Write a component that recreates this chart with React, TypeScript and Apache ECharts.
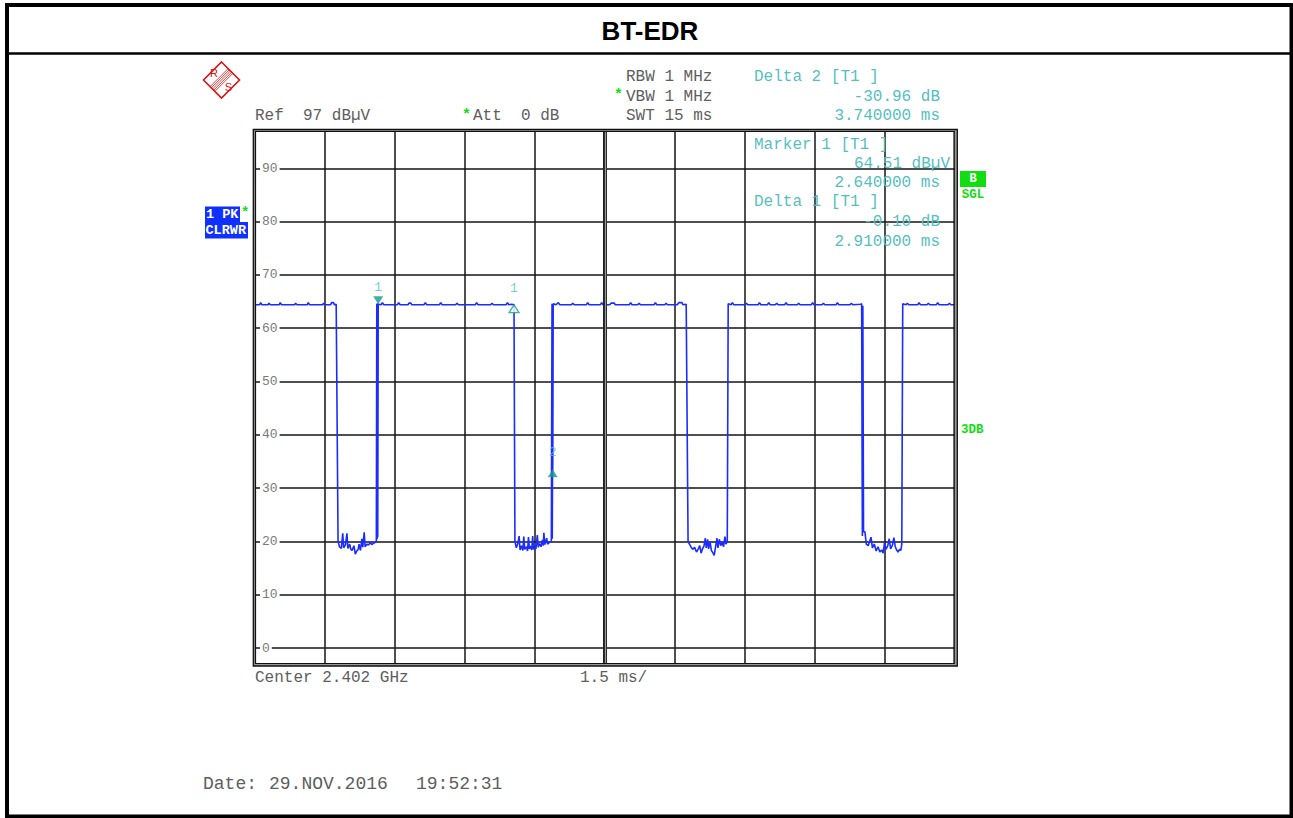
import React, { useEffect, useRef } from "react";
import * as echarts from "echarts";

// ---------- data ----------
const TITLE = "BT-EDR";
const SWEEP_MS = 15; // 10 divisions x 1.5 ms
const DIV_MS = 1.5;
const REF_LEVEL = 97;
const Y_MIN = -3;

// trace segments [time ms, level dBµV]
const high1: [number, number][] = [
  [0.0, 64.4], [0.1, 64.4], [0.12, 64.8], [0.15, 64.4], [0.28, 64.4], [0.3, 64.7], [0.33, 64.4],
  [0.52, 64.4], [0.54, 64.8], [0.57, 64.4], [0.85, 64.4], [0.87, 64.7], [0.9, 64.4], [1.12, 64.4],
  [1.14, 64.8], [1.17, 64.4], [1.45, 64.4], [1.47, 64.7], [1.5, 64.4], [1.62, 64.4], [1.64, 64.8],
  [1.68, 64.8], [1.7, 64.4], [1.74, 64.5],
];
const low1: [number, number][] = [
  [1.78, 20.0], [1.81, 19.0], [1.85, 18.7], [1.88, 21.5], [1.9, 18.8], [1.94, 19.4], [1.97, 21.5],
  [1.99, 18.7], [2.03, 19.5], [2.05, 18.6], [2.08, 18.3], [2.12, 19.2], [2.15, 17.6], [2.18, 18.2],
  [2.21, 18.5], [2.23, 19.5], [2.26, 18.3], [2.29, 20.5], [2.31, 18.9], [2.34, 21.7], [2.36, 19.0],
  [2.4, 19.5], [2.43, 19.3], [2.47, 19.8], [2.5, 19.4], [2.53, 19.6], [2.57, 19.8], [2.6, 20.0],
  [2.61, 64.6], [2.615, 20.4], [2.625, 64.7], [2.63, 20.8], [2.64, 64.51],
];
const high2: [number, number][] = [
  [2.7, 64.4], [2.73, 64.8], [2.76, 64.4], [3.05, 64.4], [3.08, 64.8], [3.11, 64.4], [3.28, 64.4],
  [3.3, 64.7], [3.34, 64.7], [3.36, 64.4], [3.62, 64.4], [3.65, 64.8], [3.68, 64.4], [3.95, 64.4],
  [3.98, 64.8], [4.01, 64.4], [4.3, 64.4], [4.33, 64.7], [4.36, 64.4], [4.72, 64.4], [4.75, 64.8],
  [4.78, 64.4], [5.05, 64.4], [5.08, 64.7], [5.11, 64.4], [5.38, 64.4], [5.41, 64.8], [5.44, 64.4],
  [5.5, 64.5], [5.55, 64.41],
];
const low2: [number, number][] = [
  [5.57, 20.0], [5.6, 18.8], [5.63, 19.5], [5.66, 21.0], [5.68, 18.4], [5.71, 19.2], [5.74, 18.3],
  [5.76, 20.9], [5.78, 18.5], [5.82, 19.0], [5.84, 18.2], [5.86, 20.8], [5.88, 18.6], [5.91, 19.1],
  [5.93, 18.4], [5.95, 21.0], [5.97, 18.5], [6.0, 19.3], [6.02, 18.6], [6.05, 21.2], [6.07, 18.9],
  [6.1, 19.6], [6.13, 19.0], [6.16, 20.3], [6.18, 19.2], [6.19, 21.6], [6.21, 19.4], [6.25, 20.6],
  [6.27, 19.5], [6.31, 19.8], [6.35, 20.0],
  [6.365, 64.6], [6.37, 20.5], [6.375, 33.0], [6.38, 33.55], [6.39, 64.6],
];
const high3: [number, number][] = [
  [6.45, 64.4], [6.5, 64.8], [6.53, 64.4], [6.78, 64.4], [6.81, 64.7], [6.84, 64.4], [7.1, 64.4],
  [7.13, 64.8], [7.16, 64.4], [7.4, 64.4], [7.43, 64.8], [7.46, 64.4], [7.6, 64.4], [7.63, 64.7],
  [7.7, 64.7], [7.72, 64.4], [8.02, 64.4], [8.05, 64.8], [8.08, 64.4], [8.2, 64.4], [8.23, 64.7],
  [8.26, 64.4], [8.55, 64.4], [8.58, 64.8], [8.61, 64.4], [8.78, 64.4], [8.81, 64.7], [8.84, 64.4],
  [9.05, 64.4], [9.08, 64.8], [9.15, 64.8], [9.17, 64.4], [9.24, 64.5],
];
const low3: [number, number][] = [
  [9.28, 20.0], [9.31, 19.5], [9.34, 19.0], [9.38, 18.5], [9.42, 18.9], [9.46, 18.0], [9.5, 18.6],
  [9.53, 19.2], [9.56, 17.8], [9.59, 18.6], [9.62, 19.1], [9.65, 20.6], [9.67, 18.8], [9.7, 20.4],
  [9.72, 18.6], [9.75, 19.9], [9.78, 18.3], [9.81, 17.9], [9.84, 17.4], [9.87, 19.0], [9.9, 20.6],
  [9.92, 18.8], [9.95, 20.4], [9.98, 19.2], [10.01, 19.8], [10.04, 19.0], [10.07, 20.9], [10.09, 19.5],
  [10.12, 20.0], [10.14, 64.6],
];
const high4: [number, number][] = [
  [10.2, 64.4], [10.23, 64.8], [10.26, 64.4], [10.5, 64.4], [10.53, 64.7], [10.56, 64.4], [10.78, 64.4],
  [10.81, 64.8], [10.84, 64.4], [10.98, 64.4], [11.01, 64.8], [11.04, 64.4], [11.15, 64.4], [11.18, 64.7],
  [11.21, 64.4], [11.35, 64.4], [11.38, 64.8], [11.41, 64.4], [11.62, 64.4], [11.65, 64.7], [11.68, 64.4],
  [11.92, 64.4], [11.95, 64.8], [11.98, 64.4], [12.15, 64.4], [12.18, 64.7], [12.21, 64.4], [12.45, 64.4],
  [12.48, 64.8], [12.51, 64.4], [12.75, 64.4], [12.78, 64.7], [12.81, 64.4], [12.98, 64.5], [13.0, 64.6],
];
const low4: [number, number][] = [
  [13.015, 21.0], [13.025, 64.2], [13.04, 21.8],
  [13.07, 21.8], [13.1, 19.5], [13.14, 19.2], [13.17, 20.0], [13.2, 20.8], [13.23, 18.8], [13.27, 19.5],
  [13.31, 18.2], [13.35, 19.0], [13.39, 18.0], [13.43, 18.4], [13.46, 17.8], [13.49, 19.8], [13.52, 18.5],
  [13.56, 19.2], [13.59, 20.5], [13.62, 18.6], [13.66, 19.3], [13.69, 20.7], [13.72, 19.0], [13.75, 18.4],
  [13.78, 18.0], [13.81, 18.5], [13.84, 18.3], [13.86, 19.5], [13.88, 64.6],
];
const high5: [number, number][] = [
  [13.95, 64.4], [13.98, 64.7], [14.01, 64.4], [14.2, 64.4], [14.23, 64.8], [14.26, 64.4], [14.4, 64.4],
  [14.43, 64.7], [14.46, 64.4], [14.6, 64.4], [14.63, 64.8], [14.66, 64.4], [14.85, 64.4], [14.88, 64.7],
  [14.91, 64.4], [15.0, 64.4],
];

// markers: Marker 1, Delta 1, Delta 2
const markerNames = ["1", "1", "2"];
const markerTimes = [2.64, 5.55, 6.38];
const markerLevels = [64.51, 64.41, 33.55];

// header texts
const headerLeft = ["Ref", "97 dBµV"];
const headerAtt = ["Att", "0 dB"];
const headerMid = ["RBW 1 MHz", "VBW 1 MHz", "SWT 15 ms"];
const footer = ["Center 2.402 GHz", "1.5 ms/"];
const dateParts = ["Date:", "29.NOV.2016", "19:52:31"];

// ---------- styles ----------
const MONO = '"Liberation Mono", "DejaVu Sans Mono", monospace';
const GRAY = "#5e5e5e";
const TEAL = "#55bfbf";
const MARK = "#169a8c";
const GREEN = "#12dd12";
const BLUE = "#1030ff";
const TRACE = "#1a2cff";
const RED = "#d41515";

export default function App() {
  const ref = useRef<HTMLDivElement>(null);

  useEffect(() => {
    if (!ref.current) return;
    const chart = echarts.init(ref.current, null, { renderer: "svg" });

    const trace = [...high1, ...low1, ...high2, ...low2, ...high3, ...low3, ...high4, ...low4, ...high5];

    const d2Level = (markerLevels[2] - markerLevels[0]).toFixed(2) + " dB";
    const d2Time = (markerTimes[2] - markerTimes[0]).toFixed(6) + " ms";
    const m1Level = markerLevels[0].toFixed(2) + " dBµV";
    const m1Time = markerTimes[0].toFixed(6) + " ms";
    const d1Level = (markerLevels[1] - markerLevels[0]).toFixed(2) + " dB";
    const d1Time = (markerTimes[1] - markerTimes[0]).toFixed(6) + " ms";

    const t = (text: string, x: number, y: number, fill: string, size = 16, extra: any = {}) => ({
      type: "text",
      z: 20,
      x,
      y,
      style: {
        text,
        fill,
        font: `${extra.bold ? "bold " : ""}${size}px ${extra.family || MONO}`,
        align: extra.align || "left",
        verticalAlign: "middle",
      },
    });

    // logo geometry (decoration)
    const cx = 221.5, cy = 80, hs = 18;
    const stripes: any[] = [-2.4, -1.2, 0, 1.2, 2.4].map((s) => ({
      type: "line",
      z: 20,
      shape: { x1: cx - 9 + s, y1: cy + 9 + s, x2: cx + 9 + s, y2: cy - 9 + s },
      style: { stroke: RED, lineWidth: 0.8 },
    }));

    const markerData = markerTimes.map((tm, i) => {
      const isM1 = i === 0;
      const hollow = i === 1;
      return {
        value: [tm, markerLevels[i]],
        symbolRotate: isM1 ? 180 : 0,
        symbolOffset: isM1 ? [0, -4] : [0, 4],
        itemStyle: hollow
          ? { color: "#ffffff", borderColor: MARK, borderWidth: 1.3 }
          : { color: MARK, borderWidth: 0 },
        label: {
          show: true,
          position: "top",
          distance: isM1 ? 2 : i === 1 ? 9 : 10,
          formatter: markerNames[i],
          color: TEAL,
          fontFamily: MONO,
          fontSize: 13,
        },
      };
    });

    const option: any = {
      animation: false,
      backgroundColor: "#ffffff",
      grid: { left: 255, top: 131, width: 700, height: 533, show: false },
      xAxis: {
        type: "value",
        min: 0,
        max: SWEEP_MS,
        interval: DIV_MS,
        axisLine: { show: false },
        axisTick: { show: false },
        axisLabel: { show: false },
        splitLine: { show: true, lineStyle: { color: "#151515", width: 1.5 } },
      },
      yAxis: [
        {
          type: "value",
          min: Y_MIN,
          max: REF_LEVEL,
          splitNumber: 10,
          position: "left",
          axisLine: { show: false },
          axisTick: { show: false },
          axisLabel: { show: false },
          splitLine: { show: true, lineStyle: { color: "#151515", width: 1.5 } },
        },
        {
          type: "value",
          min: Y_MIN,
          max: REF_LEVEL,
          splitNumber: 10,
          position: "left",
          z: 3,
          axisLine: { show: false },
          axisTick: { show: false },
          splitLine: { show: false },
          axisLabel: {
            inside: true,
            margin: 5,
            showMinLabel: false,
            showMaxLabel: false,
            color: "#7a7a7a",
            fontFamily: MONO,
            fontSize: 13,
            backgroundColor: "#ffffff",
            padding: [0, 2, 0, 2],
          },
        },
      ],
      series: [
        {
          type: "line",
          data: trace,
          yAxisIndex: 0,
          showSymbol: false,
          symbol: "none",
          z: 4,
          lineStyle: { color: TRACE, width: 1.6 },
          markLine: {
            silent: true,
            symbol: "none",
            label: { show: false },
            data: [
              { xAxis: SWEEP_MS / 2, lineStyle: { color: "#222", width: 4, type: "solid" } },
              { xAxis: SWEEP_MS / 2, lineStyle: { color: "#9a9a9a", width: 1.2, type: "solid" } },
            ],
          },
        },
        {
          type: "scatter",
          yAxisIndex: 0,
          symbol: "triangle",
          symbolSize: [10, 8],
          z: 6,
          data: markerData,
        },
      ],
      graphic: [
        // outer page frame
        { type: "rect", z: 20, shape: { x: 7, y: 5, width: 1284.5, height: 811.5 }, style: { fill: "none", stroke: "#000", lineWidth: 4 } },
        { type: "line", z: 20, shape: { x1: 7, y1: 53.5, x2: 1291, y2: 53.5 }, style: { stroke: "#000", lineWidth: 2.5 } },
        t(TITLE, 650, 31, "#000", 26, { bold: true, align: "center", family: '"Liberation Sans", Arial, sans-serif' }),
        // plot frame
        { type: "rect", z: 20, shape: { x: 254.3, y: 130.3, width: 701.7, height: 534.7 }, style: { fill: "none", stroke: "#9a9a9a", lineWidth: 2 } },
        { type: "rect", z: 20, shape: { x: 253.3, y: 129.5, width: 704, height: 536.5 }, style: { fill: "none", stroke: "#111", lineWidth: 1.3 } },
        { type: "rect", z: 20, shape: { x: 255.5, y: 131.5, width: 698.5, height: 532 }, style: { fill: "none", stroke: "#111", lineWidth: 1.2 } },
        // logo
        {
          type: "polygon",
          z: 20,
          shape: { points: [[cx, cy - hs], [cx + hs, cy], [cx, cy + hs], [cx - hs, cy]] },
          style: { fill: "none", stroke: RED, lineWidth: 1.6 },
        },
        ...stripes,
        t("R", 214, 73, RED, 11, { align: "center", family: '"Liberation Sans", sans-serif' }),
        t("S", 228.5, 87, RED, 11, { align: "center", family: '"Liberation Sans", sans-serif' }),
        // header
        t(headerLeft[0], 255, 116, GRAY),
        t(headerLeft[1], 303, 116, GRAY),
        t("*", 462, 115, GREEN, 15, { bold: true }),
        t(headerAtt[0], 473, 116, GRAY),
        t(headerAtt[1], 521, 116, GRAY),
        t(headerMid[0], 626, 77, GRAY),
        t("*", 614, 95.5, GREEN, 15, { bold: true }),
        t(headerMid[1], 626, 96.5, GRAY),
        t(headerMid[2], 626, 116, GRAY),
        // marker readout
        t("Delta 2 [T1 ]", 754, 77, TEAL),
        t(d2Level, 940, 96.5, TEAL, 16, { align: "right" }),
        t(d2Time, 940, 116, TEAL, 16, { align: "right" }),
        t("Marker 1 [T1 ]", 754, 144.5, TEAL),
        t(m1Level, 950, 163.5, TEAL, 16, { align: "right" }),
        t(m1Time, 940, 183, TEAL, 16, { align: "right" }),
        t("Delta 1 [T1 ]", 754, 202, TEAL),
        t(d1Level, 940, 222, TEAL, 16, { align: "right" }),
        t(d1Time, 940, 242, TEAL, 16, { align: "right" }),
        // trace box
        { type: "rect", z: 20, shape: { x: 205, y: 206.5, width: 35, height: 15.5 }, style: { fill: BLUE } },
        { type: "rect", z: 20, shape: { x: 205, y: 222, width: 43, height: 16.5 }, style: { fill: BLUE } },
        t("1 PK", 206, 214.5, "#fff", 13.5, { bold: true }),
        t("CLRWR", 205.5, 230.5, "#fff", 13.5, { bold: true }),
        t("*", 241, 213, GREEN, 14, { bold: true }),
        // right status
        { type: "rect", z: 20, shape: { x: 960, y: 171, width: 26, height: 16 }, style: { fill: GREEN } },
        t("B", 973, 179, "#fff", 12, { bold: true, align: "center" }),
        t("SGL", 973, 195, GREEN, 12.5, { bold: true, align: "center" }),
        t("3DB", 961, 430, GREEN, 12.5, { bold: true }),
        // footer
        t(footer[0], 255, 678, GRAY),
        t(footer[1], 580, 678, GRAY),
        t(dateParts[0], 203, 784, GRAY, 18),
        t(dateParts[1], 269, 784, GRAY, 18),
        t(dateParts[2], 416, 784, GRAY, 18),
      ],
    };

    chart.setOption(option);
    return () => chart.dispose();
  }, []);

  return (
    <div
      ref={ref}
      style={{ position: "absolute", left: 0, top: 0, width: 1293, height: 818, background: "#fff" }}
    />
  );
}
